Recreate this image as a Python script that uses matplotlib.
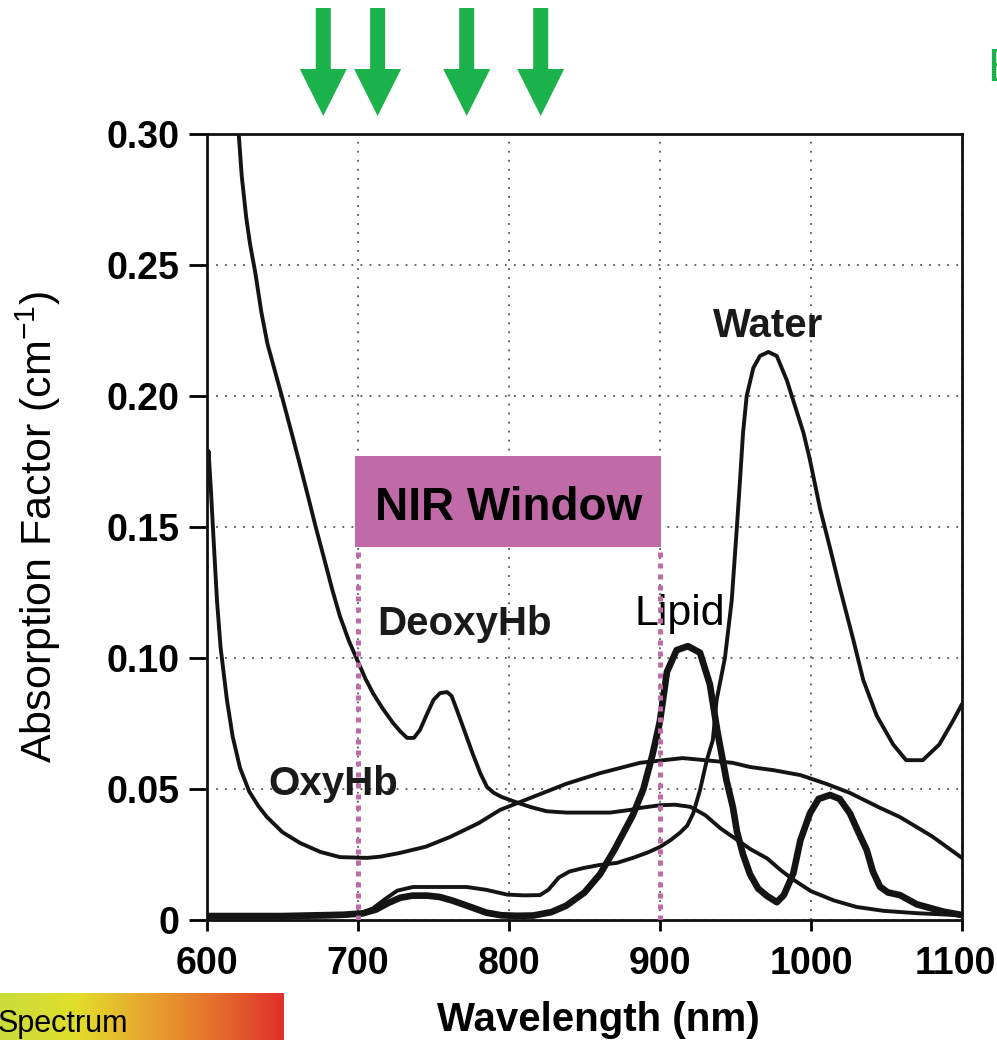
import numpy as np
import matplotlib
matplotlib.use("Agg")
import matplotlib.pyplot as plt
from matplotlib.patches import Rectangle, Polygon
from matplotlib.colors import LinearSegmentedColormap
from matplotlib.transforms import ScaledTranslation

plt.rcParams['font.family'] = ['Liberation Sans', 'DejaVu Sans']

# ---------------- data ----------------
deoxy_wl = [621, 623, 626, 628.5, 632, 636, 640, 645, 650, 656, 661, 667, 672, 678, 683,
            688, 694, 699.3, 705, 709.9, 716, 723.2, 728, 732.5, 737, 741, 746, 750,
            754.3, 759, 762, 765.6, 770, 776, 781, 785.4, 790, 795, 800.7, 807, 815,
            825, 838, 850, 867, 880, 887, 900, 910, 920, 930, 940, 950, 960, 971, 980,
            988, 1000, 1015, 1030, 1048, 1070, 1092, 1100]
deoxy_val = [0.300, 0.284, 0.268, 0.258, 0.247, 0.232, 0.220, 0.2095, 0.199, 0.186, 0.175,
             0.1615, 0.150, 0.137, 0.126, 0.116, 0.1065, 0.0995, 0.092, 0.0866, 0.081,
             0.0752, 0.072, 0.0695, 0.0695, 0.0725, 0.079, 0.084, 0.0866, 0.087, 0.0855,
             0.080, 0.073, 0.0634, 0.056, 0.0508, 0.0485, 0.047, 0.0458, 0.0445, 0.043,
             0.0415, 0.041, 0.041, 0.041, 0.042, 0.0428, 0.0438, 0.044, 0.0432, 0.040,
             0.035, 0.031, 0.027, 0.0235, 0.019, 0.0155, 0.011, 0.0075, 0.005, 0.0035,
             0.0026, 0.002, 0.0017]

oxy_wl = [600, 601, 602.5, 604, 606.6, 609, 613.2, 617, 621.9, 628, 634, 639.7, 650,
          661.6, 675, 688, 706, 715, 727.8, 745, 761, 780, 794, 805, 816, 838, 860,
          886.8, 915, 948, 959.6, 975, 993, 1010, 1025.8, 1045, 1058.9, 1080, 1100]
oxy_val = [0.166, 0.179, 0.165, 0.149, 0.122, 0.104, 0.084, 0.070, 0.058, 0.049, 0.0435,
           0.0393, 0.0335, 0.0294, 0.026, 0.024, 0.0237, 0.0242, 0.0256, 0.028, 0.0317,
           0.037, 0.042, 0.0445, 0.047, 0.052, 0.056, 0.060, 0.0618, 0.060, 0.0584,
           0.0572, 0.0553, 0.052, 0.0485, 0.043, 0.0393, 0.032, 0.0237]

water_wl = [600, 650, 690, 702, 710, 718, 726, 736.4, 750, 772, 785, 798.7, 810, 820.5,
            826, 833, 840, 849, 860, 871.5, 882, 892, 900, 907, 913, 918, 922, 926.5,
            931, 935, 937.5, 943, 947.5, 950.8, 953, 955, 957.4, 961.8, 966.2, 971.8,
            977.3, 984, 995, 999.3, 1006, 1012.6, 1019, 1028, 1034.6, 1043.5, 1054.4,
            1063, 1074, 1085, 1094, 1100]
water_val = [0.001, 0.001, 0.0015, 0.0025, 0.0045, 0.008, 0.0112, 0.0126, 0.0126,
             0.0126, 0.0115, 0.0097, 0.0094, 0.0095, 0.0115, 0.0162, 0.0185, 0.0198,
             0.021, 0.0218, 0.0237, 0.0258, 0.0279, 0.0305, 0.0332, 0.036, 0.0407,
             0.0496, 0.061, 0.0687, 0.084, 0.100, 0.122, 0.149, 0.168, 0.186, 0.200,
             0.2107, 0.2153, 0.2168, 0.2153, 0.206, 0.186, 0.1756, 0.157, 0.142, 0.127,
             0.107, 0.0916, 0.078, 0.067, 0.061, 0.061, 0.067, 0.076, 0.0824]

lipid_wl = [600, 650, 690, 703, 712, 720, 728, 736, 746, 754, 762, 772, 785, 795, 805,
            816, 828, 838, 850, 860.3, 870, 882, 889, 895, 900, 904.6, 911, 918.5,
            926.5, 933, 938, 944, 948.3, 951, 955, 959.6, 965, 970.8, 977.4, 982,
            988.3, 993, 999.3, 1005, 1012.6, 1019, 1025.8, 1031, 1036.9, 1041, 1045.7,
            1051, 1058.9, 1070, 1087.6, 1100]
lipid_val = [0.0015, 0.0015, 0.002, 0.0025, 0.004, 0.0065, 0.0085, 0.0093, 0.0093,
             0.0088, 0.0075, 0.0055, 0.0028, 0.0018, 0.0016, 0.0017, 0.003, 0.0055,
             0.0105, 0.0175, 0.027, 0.040, 0.050, 0.063, 0.076, 0.0947, 0.103, 0.1045,
             0.102, 0.090, 0.072, 0.0534, 0.043, 0.0336, 0.025, 0.0175, 0.012, 0.0092,
             0.0068, 0.0095, 0.0178, 0.0305, 0.0407, 0.0462, 0.0477, 0.0462, 0.0407,
             0.034, 0.0267, 0.0185, 0.0127, 0.0105, 0.0095, 0.006, 0.0032, 0.0019]

x_ticks = [600, 700, 800, 900, 1000, 1100]
y_ticks = [0, 0.05, 0.10, 0.15, 0.20, 0.25, 0.30]
y_ticklabels = ['0', '0.05', '0.10', '0.15', '0.20', '0.25', '0.30']

nir_window = (700, 900)
arrow_wavelengths = [677, 713, 772, 821]

# ---------------- figure ----------------
W, H = 997, 1040
fig = plt.figure(figsize=(W / 100, H / 100), dpi=100)
ax = fig.add_axes([207 / W, 1 - 920 / H, (962 - 207) / W, (920 - 134) / H])
ax.set_xlim(600, 1100)
ax.set_ylim(0, 0.30)

ax.set_xticks(x_ticks)
ax.set_yticks(y_ticks)
ax.set_yticklabels(y_ticklabels)
for lab in ax.get_xticklabels() + ax.get_yticklabels():
    lab.set_fontweight('bold')
ax.tick_params(axis='y', length=13, width=2, direction='out', pad=7, labelsize=27)
ax.tick_params(axis='x', length=8, width=2, direction='out', pad=11, labelsize=27)
# keep the last x tick label inside the canvas
last = ax.get_xticklabels()[-1]
last.set_transform(last.get_transform() + ScaledTranslation(-7 / 100, 0, fig.dpi_scale_trans))
for sp in ax.spines.values():
    sp.set_linewidth(2.0)
    sp.set_color('#111111')

ax.grid(True, color='#555555', linestyle=(0, (1, 4)), linewidth=1.3)
ax.set_axisbelow(True)

lc = '#141414'
ax.plot(deoxy_wl, deoxy_val, color=lc, lw=2.8, solid_capstyle='round',
        solid_joinstyle='round', zorder=3)
ax.plot(oxy_wl, oxy_val, color=lc, lw=2.8, solid_capstyle='round',
        solid_joinstyle='round', zorder=3)
ax.plot(water_wl, water_val, color=lc, lw=2.8, solid_capstyle='round',
        solid_joinstyle='round', zorder=3)
ax.plot(lipid_wl, lipid_val, color=lc, lw=4.8, solid_capstyle='round',
        solid_joinstyle='round', zorder=3)

# NIR window
pink = '#C06AA8'
box_lo, box_hi = 0.1424, 0.177
ax.add_patch(Rectangle((nir_window[0] - 2, box_lo), nir_window[1] - nir_window[0] + 2.7,
                       box_hi - box_lo, facecolor=pink, edgecolor='none', zorder=4))
ax.text(sum(nir_window) / 2, 0.1527, 'NIR Window', fontsize=33, fontweight='bold',
        ha='center', va='baseline', zorder=5)
ax.vlines(nir_window, 0, box_lo, colors=pink, linewidth=3.6,
          linestyles=[(0, (1, 1.2))], zorder=4)

# curve labels
ax.text(971.5, 0.2225, 'Water', fontsize=29, fontweight='bold', ha='center',
        va='baseline', color='#1a1a1a')
ax.text(712.6, 0.1088, 'DeoxyHb', fontsize=29, fontweight='bold', ha='left',
        va='baseline', color='#1a1a1a')
ax.text(640.4, 0.0477, 'OxyHb', fontsize=29, fontweight='bold', ha='left',
        va='baseline', color='#1a1a1a')
ax.text(883.4, 0.1126, 'Lipid', fontsize=31, ha='left', va='baseline', color='black')

# axis labels
fig.text(598 / W, 1 - 1031 / H, 'Wavelength (nm)', fontsize=29, fontweight='bold',
         ha='center', va='baseline')
fig.text(38 / W, 1 - 527 / H, 'Absorption Factor (cm$^{\\mathregular{-1}}$)', fontsize=31,
         rotation=90, ha='center', va='center')

# green arrows above the plot
green = '#1BB24B'
fig.canvas.draw()
for wl in arrow_wavelengths:
    xp = ax.transData.transform((wl, 0))[0]
    ytop, ybase, ytip = H - 8, H - 69, H - 116
    pts = [(xp - 7.5, ytop), (xp + 7.5, ytop), (xp + 7.5, ybase), (xp + 23.5, ybase),
           (xp, ytip), (xp - 23.5, ybase), (xp - 7.5, ybase)]
    pts = [(px / W, py / H) for px, py in pts]
    fig.patches.append(Polygon(pts, closed=True, transform=fig.transFigure,
                               facecolor=green, edgecolor='none'))

fig.text(987 / W, 1 - 81 / H, 'E', fontsize=34, color=green, ha='left', va='baseline')

# spectrum bar
cmap = LinearSegmentedColormap.from_list('spec', [(0, '#CBDC3C'), (0.27, '#E1DE2A'),
                                                  (0.5, '#E8A82E'), (0.7, '#E67C2E'),
                                                  (0.88, '#E2502A'), (1, '#E0302A')])
sax = fig.add_axes([0, 0, 283 / W, 47 / H])
sax.imshow(np.linspace(0, 1, 256)[None, :], aspect='auto', cmap=cmap,
           extent=[0, 1, 0, 1])
sax.set_axis_off()
fig.text(-2 / W, 1 - 1032 / H, 'Spectrum', fontsize=22, ha='left', va='baseline')

fig.savefig('out.png', dpi=100)
